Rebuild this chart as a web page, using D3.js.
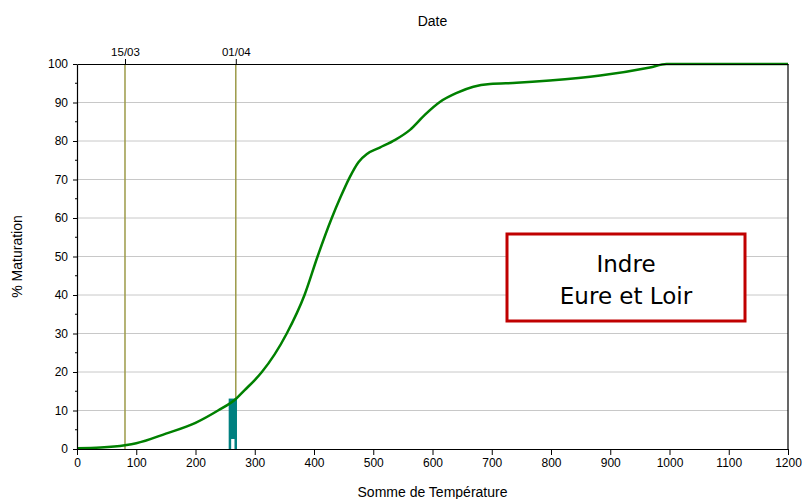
<!DOCTYPE html>
<html><head><meta charset="utf-8">
<script src="https://cdn.jsdelivr.net/npm/d3@7"></script>
<style>body{margin:0;background:#fff}svg{display:block}</style>
</head><body>
<svg id="c" width="803" height="499"></svg>
<script>
const sumTemp = [0,40,81,100,150,200,238,268,283,300,312,354,384,406,430,445,460,475,490,511,537,562,587,613,641,669,697,742,798,883,967,995,1200];
const maturation = [0.2,0.4,1.0,1.5,4.0,6.8,10,13,15.3,17.9,20,30,40,50,60,65.5,70.5,74.5,76.7,78.3,80.3,82.9,86.8,90.2,92.5,94.1,94.8,95.1,95.7,97.0,99.1,100,100];
const dateLabels = ["15/03","01/04"];
const datePos = [81,268];
const xTicks = [0,100,200,300,400,500,600,700,800,900,1000,1100,1200];
const yTicks = [0,10,20,30,40,50,60,70,80,90,100];
const barRange = [256,270];
const barValue = 13.1;
const barInnerValue = 2.6;
const legendLines = ["Indre","Eure et Loir"];

const svg = d3.select("#c");
const m = {l:77, r:788, t:64, b:449};
const x = d3.scaleLinear().domain([0,1200]).range([m.l,m.r]);
const y = d3.scaleLinear().domain([0,100]).range([m.b,m.t]);
const font = "'Liberation Sans', Arial, sans-serif";

// grid
svg.append("g").selectAll("line").data(yTicks.filter(d=>d>0&&d<100)).join("line")
  .attr("x1",m.l).attr("x2",m.r).attr("y1",d=>y(d)).attr("y2",d=>y(d))
  .attr("stroke","#c8c8c8").attr("stroke-width",1);

// date lines
svg.append("g").selectAll("line").data(datePos).join("line")
  .attr("x1",d=>x(d)).attr("x2",d=>x(d)).attr("y1",m.t).attr("y2",m.b)
  .attr("stroke","#9c9a48").attr("stroke-width",1.5);

// bar
const bw = x(barRange[1])-x(barRange[0]);
svg.append("rect").attr("x",x(barRange[0])).attr("width",bw)
  .attr("y",y(barValue)).attr("height",y(0)-y(barValue)).attr("fill","#008080");
svg.append("rect").attr("x",x(barRange[0])+2.5).attr("width",bw-5)
  .attr("y",y(barInnerValue)).attr("height",y(0)-y(barInnerValue)).attr("fill","#fff");

// curve
const line = d3.line().x((d,i)=>x(sumTemp[i])).y(d=>y(d)).curve(d3.curveMonotoneX);
svg.append("path").attr("d",line(maturation)).attr("fill","none")
  .attr("stroke","#008000").attr("stroke-width",2.5);

// axes
const gx = svg.append("g").attr("transform",`translate(0,${m.b})`)
  .call(d3.axisBottom(x).tickValues(xTicks).tickFormat(d3.format("d")).tickSize(6).tickPadding(3).tickSizeOuter(0));
const gy = svg.append("g").attr("transform",`translate(${m.l},0)`)
  .call(d3.axisLeft(y).tickValues(yTicks).tickSize(4).tickPadding(5).tickSizeOuter(0));
const gt = svg.append("g").attr("transform",`translate(0,${m.t})`)
  .call(d3.axisTop(x).tickValues(datePos).tickFormat((d,i)=>dateLabels[i]).tickSize(5).tickPadding(3).tickSizeOuter(0));
// minor y ticks
svg.append("g").selectAll("line").data(d3.range(5,100,10)).join("line")
  .attr("x1",m.l-2).attr("x2",m.l).attr("y1",d=>y(d)).attr("y2",d=>y(d)).attr("stroke","#000");
// right border
svg.append("line").attr("x1",m.r).attr("x2",m.r).attr("y1",m.t).attr("y2",m.b).attr("stroke","#000").attr("stroke-width",1.2);

[gx,gy,gt].forEach(g=>{
  g.selectAll("text").attr("font-family",font).attr("font-size",12).attr("fill","#000");
  g.selectAll("path,line").attr("stroke","#000");
  g.select(".domain").attr("stroke-width",1.2);
});
gt.selectAll("text").attr("font-size",11.5);

// titles
svg.append("text").attr("x",(m.l+m.r)/2).attr("y",26).attr("text-anchor","middle")
  .attr("font-family",font).attr("font-size",14).text("Date");
svg.append("text").attr("x",(m.l+m.r)/2).attr("y",497).attr("text-anchor","middle")
  .attr("font-family",font).attr("font-size",14).text("Somme de Température");
svg.append("text").attr("transform",`translate(22,${(m.t+m.b)/2}) rotate(-90)`).attr("text-anchor","middle")
  .attr("font-family",font).attr("font-size",14).text("% Maturation");

// legend box
svg.append("rect").attr("x",507).attr("y",234).attr("width",238).attr("height",87)
  .attr("fill","#fff").attr("stroke","#c00000").attr("stroke-width",3);
svg.append("g").selectAll("text").data(legendLines).join("text")
  .attr("x",626).attr("y",(d,i)=>272+i*32).attr("text-anchor","middle")
  .attr("font-family","'DejaVu Sans', Verdana, sans-serif").attr("font-size",23).attr("fill","#000").text(d=>d);
</script>
</body></html>
